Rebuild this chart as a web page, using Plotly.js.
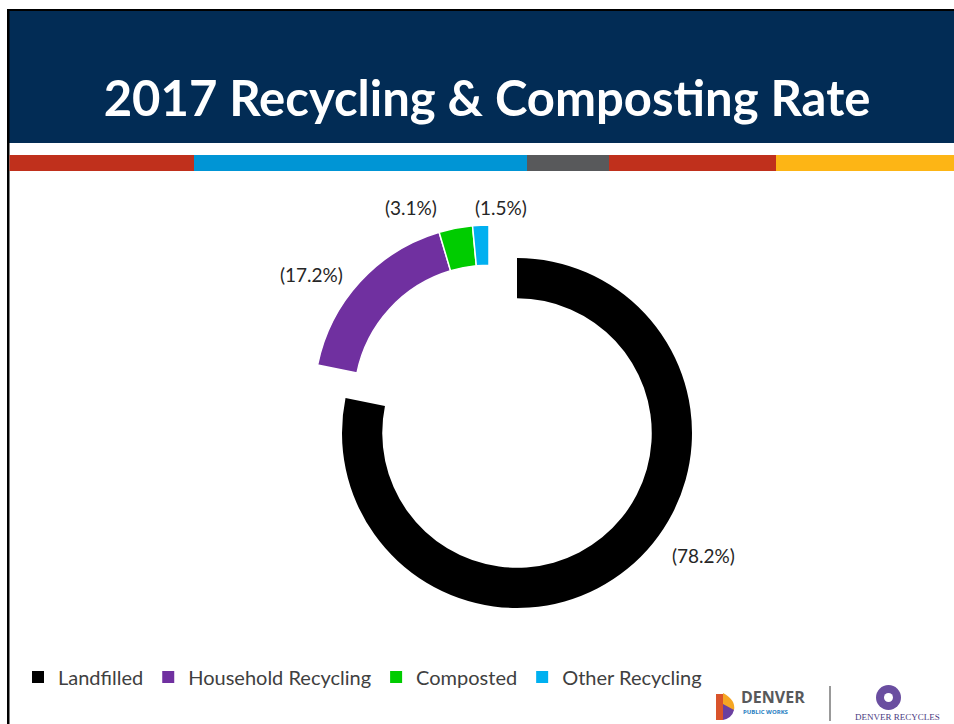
<!DOCTYPE html>
<html>
<head>
<meta charset="utf-8">
<script src="https://cdn.plot.ly/plotly-3.0.1.min.js"></script>
<style>html,body{margin:0;padding:0;background:#fff;}#chart{width:954px;height:724px;}</style>
</head>
<body>
<div id="chart"></div>
<script>
// ---- data ----
const categories = ["Landfilled", "Household Recycling", "Composted", "Other Recycling"];
const shares = [78.2, 17.2, 3.1, 1.5];
const colors = ["#000000", "#7030A0", "#00CC00", "#00B0F0"];
const titleText = "2017 Recycling & Composting Rate";

const W = 954, H = 724;
const px = v => v / W;
const py = v => 1 - v / H;

function domainFor(cx, cy, r) {
  return { x: [px(cx - r), px(cx + r)], y: [py(cy + r), py(cy - r)] };
}

const isLandfill = categories.map((c, i) => i === 0);
const labelFont = { family: "Lato, 'Open Sans', sans-serif", size: 19, color: "#262626" };

// landfilled slice (not exploded)
const traceLandfill = {
  type: "pie",
  labels: categories,
  values: shares,
  sort: false,
  direction: "clockwise",
  rotation: 0,
  hole: 0.77,
  domain: domainFor(517, 433, 175),
  marker: { colors: colors.map((c, i) => isLandfill[i] ? c : "rgba(0,0,0,0)"), line: { width: 0 } },
  textinfo: "none",
  showlegend: false,
  hoverinfo: "label+value"
};

// recycling slices (exploded as a group)
const traceRecycling = {
  type: "pie",
  labels: categories,
  values: shares,
  sort: false,
  direction: "clockwise",
  rotation: 0,
  hole: 0.77,
  domain: domainFor(489, 400, 175),
  marker: { colors: colors.map((c, i) => isLandfill[i] ? "rgba(0,0,0,0)" : c), line: { width: colors.map((c, i) => isLandfill[i] ? 0 : 1.5), color: "#ffffff" } },
  textinfo: "none",
  showlegend: false,
  hoverinfo: "label+value"
};

// legend carrier (tiny, invisible pie)
const traceLegend = {
  type: "pie",
  labels: categories,
  values: shares,
  sort: false,
  direction: "clockwise",
  domain: { x: [0.5, 0.5001], y: [0.3, 0.3001] },
  marker: { colors: colors, line: { width: 0 } },
  textinfo: "none",
  hoverinfo: "skip",
  showlegend: true
};

// data-label placement (layout only), text comes from shares
const labelPos = [[703, 555], [311, 275], [411, 208], [501, 208]];

const shapes = [
  // header
  { type: "rect", xref: "paper", yref: "paper", x0: px(9), x1: 1, y0: py(143), y1: py(11), fillcolor: "#022c55", line: { width: 0 }, layer: "below" },
  // black frame (top + left)
  { type: "rect", xref: "paper", yref: "paper", x0: px(7), x1: 1, y0: py(11), y1: py(9), fillcolor: "#000", line: { width: 0 } },
  { type: "rect", xref: "paper", yref: "paper", x0: px(7), x1: px(9.5), y0: 0, y1: py(9), fillcolor: "#000", line: { width: 0 } },
  // stripes
  { type: "rect", xref: "paper", yref: "paper", x0: px(9.5), x1: px(194), y0: py(171), y1: py(155), fillcolor: "#c0301c", line: { width: 0 } },
  { type: "rect", xref: "paper", yref: "paper", x0: px(194), x1: px(527), y0: py(171), y1: py(155), fillcolor: "#0095d5", line: { width: 0 } },
  { type: "rect", xref: "paper", yref: "paper", x0: px(527), x1: px(609), y0: py(171), y1: py(155), fillcolor: "#58595b", line: { width: 0 } },
  { type: "rect", xref: "paper", yref: "paper", x0: px(609), x1: px(776), y0: py(171), y1: py(155), fillcolor: "#c0301c", line: { width: 0 } },
  { type: "rect", xref: "paper", yref: "paper", x0: px(776), x1: 1, y0: py(171), y1: py(155), fillcolor: "#fdb515", line: { width: 0 } },
  // Denver public works icon
  { type: "rect", xref: "paper", yref: "paper", x0: px(716), x1: px(723), y0: py(720), y1: py(694), fillcolor: "#d9542b", line: { width: 0 } },
  { type: "path", xref: "paper", yref: "paper", path: "M " + px(723) + " " + py(693) + " Q " + px(736) + " " + py(700) + " " + px(734) + " " + py(710) + " L " + px(723) + " " + py(712) + " Z", fillcolor: "#f6a623", line: { width: 0 } },
  { type: "path", xref: "paper", yref: "paper", path: "M " + px(723) + " " + py(704) + " L " + px(734) + " " + py(710) + " Q " + px(732) + " " + py(718) + " " + px(723) + " " + py(720) + " Z", fillcolor: "#6b3fa0", line: { width: 0 } },
  // divider
  { type: "line", xref: "paper", yref: "paper", x0: px(830), x1: px(830), y0: py(721), y1: py(686), line: { color: "#555", width: 1.2 } },
  // recycles emblem
  { type: "circle", xref: "paper", yref: "paper", x0: px(876), x1: px(901), y0: py(710), y1: py(685), fillcolor: "#6a4ea0", line: { width: 0 } },
  { type: "circle", xref: "paper", yref: "paper", x0: px(884), x1: px(893), y0: py(702), y1: py(693), fillcolor: "#ffffff", line: { width: 0 } }
];

const annotations = shares.map((v, i) => ({
  xref: "paper", yref: "paper", x: px(labelPos[i][0]), y: py(labelPos[i][1]),
  xanchor: "center", yanchor: "middle", showarrow: false,
  text: "(" + v.toFixed(1) + "%)", font: labelFont
})).concat([
  { xref: "paper", yref: "paper", x: px(739), y: py(697), xanchor: "left", yanchor: "middle", showarrow: false,
    text: "<b>DENVER</b>", font: { family: "'Open Sans', Roboto, sans-serif", size: 16, color: "#58595b" } },
  { xref: "paper", yref: "paper", x: px(741), y: py(712), xanchor: "left", yanchor: "middle", showarrow: false,
    text: "<b>PUBLIC WORKS</b>", font: { family: "'Open Sans', sans-serif", size: 6, color: "#1f7dc1" } },
  { xref: "paper", yref: "paper", x: px(897), y: py(717), xanchor: "center", yanchor: "middle", showarrow: false,
    text: "DENVER RECYCLES", font: { family: "'Liberation Serif', serif", size: 9, color: "#4a3a80" } }
]);

const layout = {
  width: W, height: H,
  margin: { l: 0, r: 0, t: 0, b: 0 },
  paper_bgcolor: "#ffffff",
  title: {
    text: "<b>" + titleText.replace("&", "&amp;") + "</b>",
    x: px(487), xanchor: "center", y: py(99), yanchor: "middle",
    font: { family: "Lato, 'Open Sans', sans-serif", size: 49, color: "#ffffff" }
  },
  showlegend: true,
  legend: {
    orientation: "h", x: px(18), xanchor: "left", y: py(677), yanchor: "middle",
    font: { family: "Lato, 'Open Sans', sans-serif", size: 20, color: "#404040" },
    bgcolor: "rgba(0,0,0,0)", traceorder: "normal"
  },
  shapes: shapes,
  annotations: annotations
};

Plotly.newPlot("chart", [traceLandfill, traceRecycling, traceLegend], layout, { displayModeBar: false, staticPlot: true });
</script>
</body>
</html>
